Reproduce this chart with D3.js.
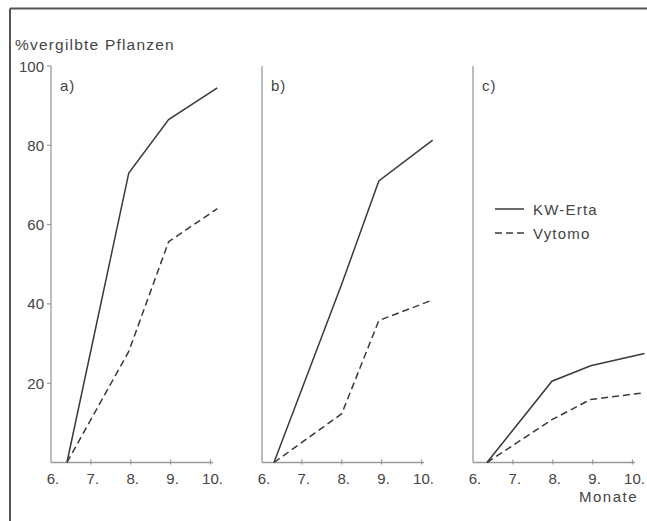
<!DOCTYPE html>
<html><head><meta charset="utf-8">
<script src="https://cdn.jsdelivr.net/npm/d3@7"></script>
<style>body{margin:0;background:#fff}svg{display:block}text{font-family:"Liberation Sans",Arial,sans-serif;fill:#444;}</style>
</head><body>
<svg id="c" width="647" height="521"></svg>
<script>
// ---- data ----
const tickMonths = [6, 7, 8, 9, 10];
const tickLabels = ["6.", "7.", "8.", "9.", "10."];
const yTicks = [20, 40, 60, 80, 100];
const panels = ["a)", "b)", "c)"];
const seriesNames = ["KW-Erta", "Vytomo"];
// months of observation per panel
const monthsA = [6.4, 7.95, 8.95, 10.17];
const monthsB = [6.3, 8.0, 8.93, 10.28];
const monthsC = [6.35, 7.98, 8.95, 10.3];
// % yellowed plants
const ertaA = [0, 73, 86.5, 94.5];
const vytomoA = [0, 28, 55.7, 64];
const ertaB = [0, 45, 71, 81.3];
const vytomoB = [0, 12.3, 35.8, 41];
const ertaC = [0, 20.5, 24.4, 27.5];
const vytomoC = [0, 10.8, 15.9, 17.6];

const panelData = [
  {label: panels[0], months: monthsA, erta: ertaA, vytomo: vytomoA},
  {label: panels[1], months: monthsB, erta: ertaB, vytomo: vytomoB},
  {label: panels[2], months: monthsC, erta: ertaC, vytomo: vytomoC}
];

const svg = d3.select("#c");
const axisColor = "#9a9a9a", lineColor = "#3a3a3a";
const y = d3.scaleLinear().domain([0, 100]).range([462.5, 66]);

// frame
svg.append("line").attr("x1", 10).attr("x2", 647).attr("y1", 8.5).attr("y2", 8.5).attr("stroke", "#555").attr("stroke-width", 2);
svg.append("line").attr("x1", 10).attr("x2", 10).attr("y1", 8.5).attr("y2", 521).attr("stroke", "#555").attr("stroke-width", 2);

// title
svg.append("text").attr("x", 15).attr("y", 50).attr("font-size", 15.5).attr("letter-spacing", 1.2).text("%vergilbte Pflanzen");

const x0s = [51, 262, 473];
panelData.forEach((p, i) => {
  const x0 = x0s[i];
  const x = d3.scaleLinear().domain([6, 10]).range([x0, x0 + 159.5]);
  const g = svg.append("g");
  // y axis line
  g.append("line").attr("x1", x0).attr("x2", x0).attr("y1", y(100)).attr("y2", y(0)).attr("stroke", axisColor).attr("stroke-width", 1.3);
  // x axis line
  g.append("line").attr("x1", x0).attr("x2", x0 + 162).attr("y1", y(0)).attr("y2", y(0)).attr("stroke", axisColor).attr("stroke-width", 1.3);
  // x ticks
  g.selectAll(".xt").data(tickMonths.slice(1)).enter().append("line")
    .attr("x1", d => x(d)).attr("x2", d => x(d)).attr("y1", y(0) - 3).attr("y2", y(0) + 2)
    .attr("stroke", axisColor).attr("stroke-width", 1.2);
  g.selectAll(".xl").data(tickMonths).enter().append("text")
    .attr("x", d => x(d) + 2).attr("y", 484).attr("text-anchor", "middle").attr("font-size", 15)
    .text((d, k) => tickLabels[k]);
  // panel label
  g.append("text").attr("x", x0 + 9).attr("y", 91).attr("font-size", 15).attr("letter-spacing", 1).text(p.label);
  // y ticks only on first panel
  if (i === 0) {
    g.selectAll(".yt").data(yTicks).enter().append("line")
      .attr("x1", x0 - 4).attr("x2", x0).attr("y1", d => y(d)).attr("y2", d => y(d))
      .attr("stroke", axisColor).attr("stroke-width", 1.2);
    g.selectAll(".yl").data(yTicks).enter().append("text")
      .attr("x", x0 - 7).attr("y", d => y(d) + 5.5).attr("text-anchor", "end").attr("font-size", 15)
      .text(d => d);
  }
  const line = d3.line().x(d => x(d[0])).y(d => y(d[1]));
  g.append("path").datum(p.months.map((m, k) => [m, p.erta[k]]))
    .attr("d", line).attr("fill", "none").attr("stroke", lineColor).attr("stroke-width", 1.5);
  g.append("path").datum(p.months.map((m, k) => [m, p.vytomo[k]]))
    .attr("d", line).attr("fill", "none").attr("stroke", lineColor).attr("stroke-width", 1.5)
    .attr("stroke-dasharray", "7,4");
});

// legend
const leg = svg.append("g");
seriesNames.forEach((s, k) => {
  const ly = 209 + k * 24;
  leg.append("line").attr("x1", 495).attr("x2", 524).attr("y1", ly).attr("y2", ly)
    .attr("stroke", lineColor).attr("stroke-width", 1.5).attr("stroke-dasharray", k ? "7,4" : null);
  leg.append("text").attr("x", 533).attr("y", ly + 5.5).attr("font-size", 15).attr("letter-spacing", 1.2).text(s);
});

// x axis title
svg.append("text").attr("x", 638).attr("y", 502).attr("text-anchor", "end").attr("font-size", 15).attr("letter-spacing", 1.5).text("Monate");
</script>
</body></html>
